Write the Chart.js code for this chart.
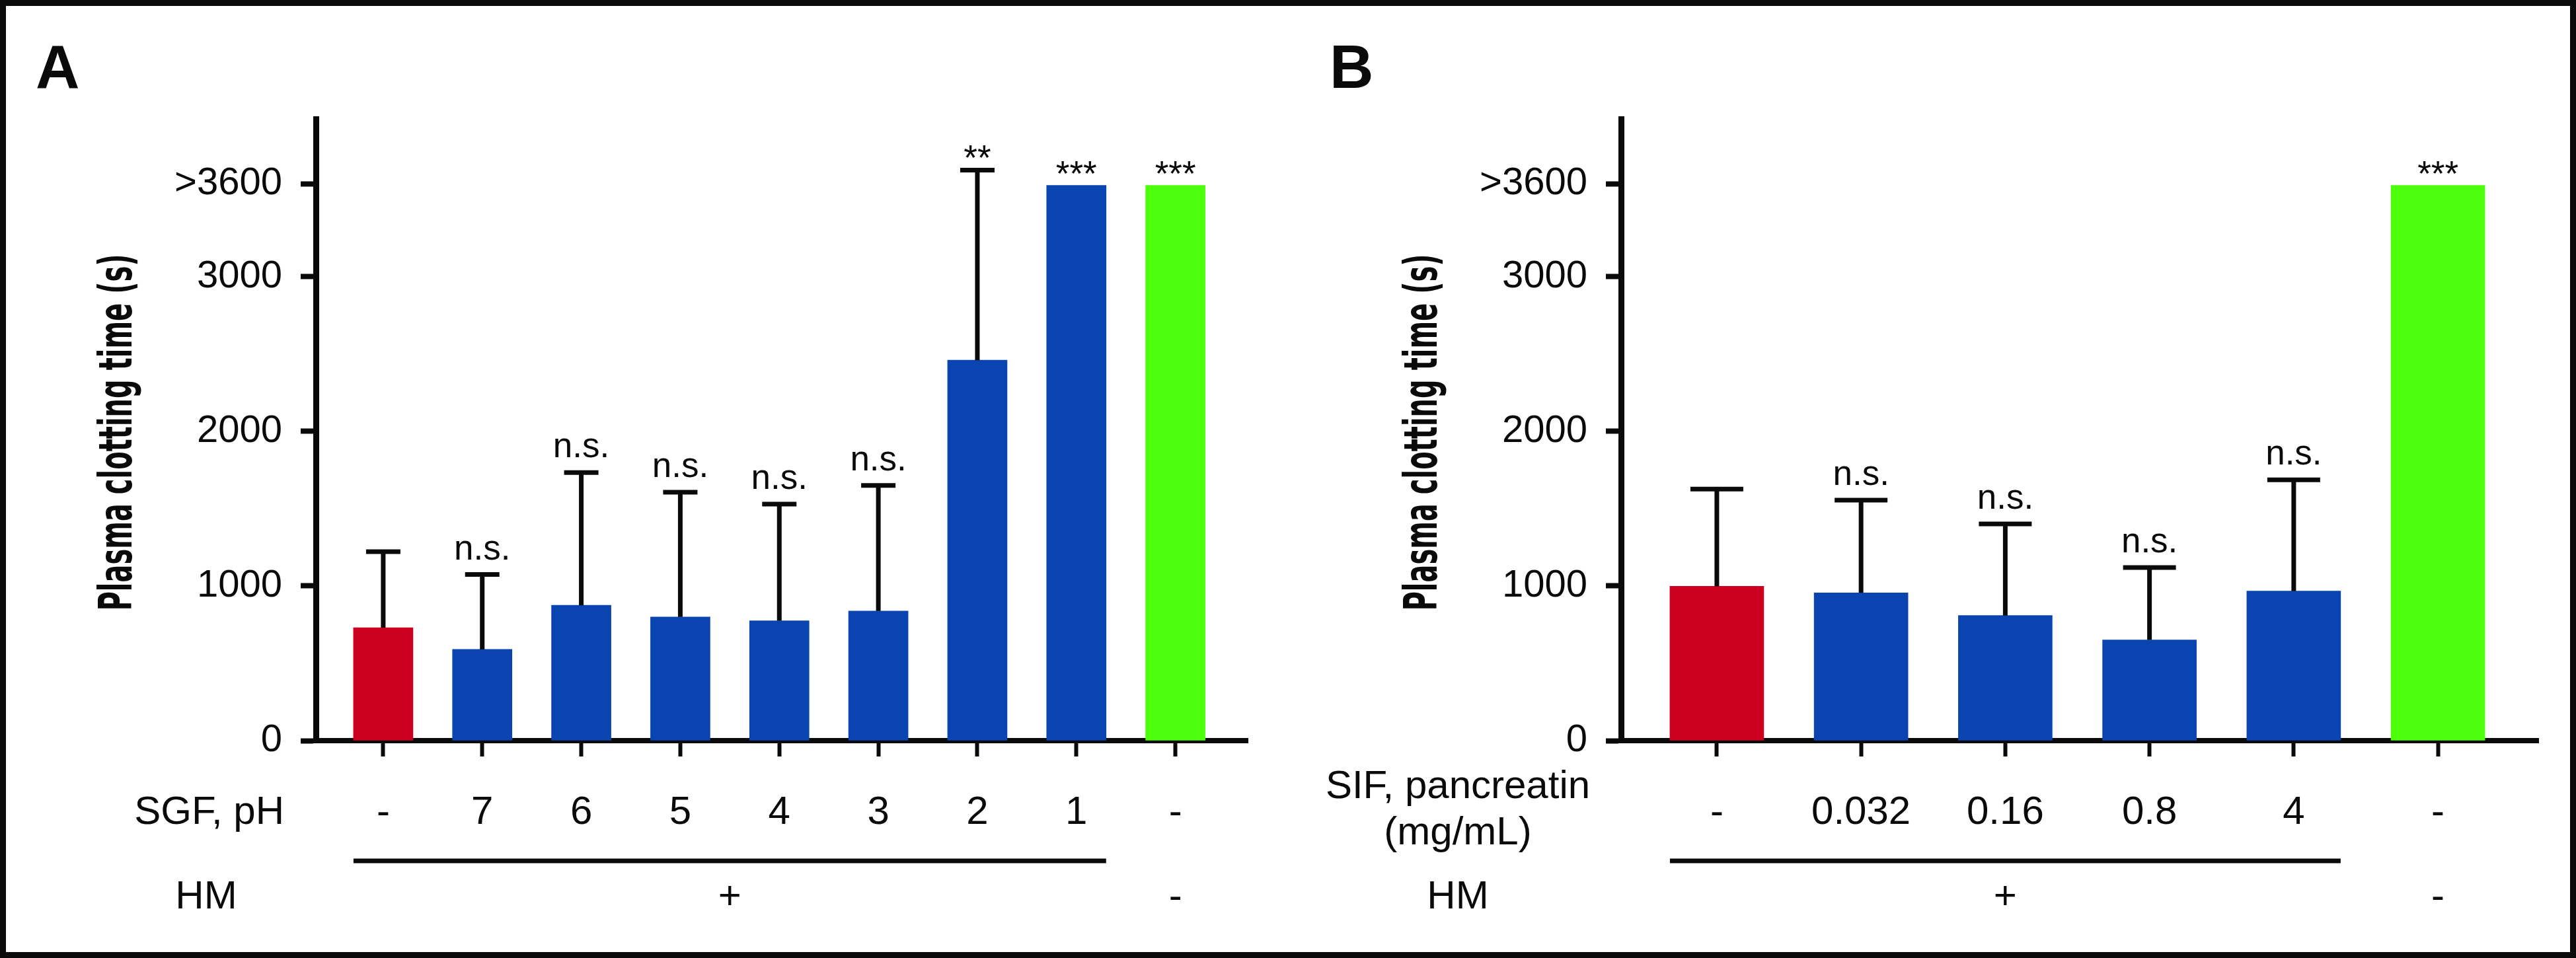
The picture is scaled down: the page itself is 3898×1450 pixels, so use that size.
<!DOCTYPE html>
<html>
<head>
<meta charset="utf-8">
<script src="https://cdn.jsdelivr.net/npm/chart.js@4.4.1/dist/chart.umd.min.js"></script>
<style>
  html, body { margin: 0; padding: 0; background: #fff; }
  #figure { position: relative; width: 3898px; height: 1450px; overflow: hidden; background: #fff; }
  #figure canvas { position: absolute; top: 0; }
  #chartA { left: 0; }
  #chartB { left: 1949px; }
  #frame { position: absolute; left: 0; top: 0; right: 0; bottom: 0; border: 9px solid #0a0a0a; pointer-events: none; }
</style>
</head>
<body>
<div id="figure">
  <canvas id="chartA" width="1949" height="1450"></canvas>
  <canvas id="chartB" width="1949" height="1450"></canvas>
  <div id="frame"></div>
</div>
<script>
// Panel A - SGF at different pH
const sgfLabels = ["-", "7", "6", "5", "4", "3", "2", "1", "-"];
const sgfMeans = [730, 590, 875, 800, 775, 838, 2460, 3590, 3590];
const sgfErrTop = [1222, 1074, 1733, 1606, 1529, 1650, 3689, null, null];
const sgfSig = ["", "n.s.", "n.s.", "n.s.", "n.s.", "n.s.", "**", "***", "***"];

// Panel B - SIF with pancreatin (mg/mL)
const sifLabels = ["-", "0.032", "0.16", "0.8", "4", "-"];
const sifMeans = [998, 956, 809, 651, 967, 3590];
const sifErrTop = [1627, 1555, 1401, 1119, 1686, null];
const sifSig = ["", "n.s.", "n.s.", "n.s.", "n.s.", "***"];

// y axis
const yTicks = [0, 1000, 2000, 3000, 3600];
const yMax = 4020;

const ink = "#0a0a0a";
const RED = "#cc001f";
const BLUE = "#0a44b1";
const GREEN = "#4cff0b";
const FONT = '"Liberation Sans", Arial, sans-serif';

// 첫 막대 = 대조군(빨강), 마지막 = HM 없음(초록), 나머지 = 파랑
function barColors(n) {
  return Array.from({ length: n }, (_, i) => (i === 0 ? RED : i === n - 1 ? GREEN : BLUE));
}

// error bars, significance marks, row labels, panel letter, y title
const panelDecor = {
  id: "panelDecor",
  afterDatasetsDraw(chart, args, opts) {
    const ctx = chart.ctx;
    const xs = chart.scales.x;
    const ys = chart.scales.y;
    ctx.save();
    ctx.strokeStyle = ink;
    ctx.lineWidth = 7;
    opts.errTop.forEach((e, i) => {
      if (e == null) return;
      const x = xs.getPixelForValue(i);
      const y0 = ys.getPixelForValue(opts.means[i]);
      const y1 = ys.getPixelForValue(e);
      ctx.beginPath();
      ctx.moveTo(x, y0);
      ctx.lineTo(x, y1);
      ctx.moveTo(x - opts.capWidth / 2, y1);
      ctx.lineTo(x + opts.capWidth / 2, y1);
      ctx.stroke();
    });
    ctx.restore();
  },
  afterDraw(chart, args, opts) {
    const ctx = chart.ctx;
    const xs = chart.scales.x;
    const ys = chart.scales.y;
    const area = chart.chartArea;
    const n = opts.means.length;
    ctx.save();
    ctx.fillStyle = ink;

    // significance
    ctx.textAlign = "center";
    ctx.textBaseline = "alphabetic";
    ctx.font = "53px " + FONT;
    opts.sig.forEach((s, i) => {
      if (!s) return;
      const top = opts.errTop[i] != null ? opts.errTop[i] : opts.means[i];
      const y = ys.getPixelForValue(top);
      ctx.fillText(s, xs.getPixelForValue(i), s === "n.s." ? y - 23 : y);
    });

    // row titles under the axis
    ctx.font = "60px " + FONT;
    ctx.textBaseline = "middle";
    ctx.textAlign = opts.rowAlign;
    opts.rowTitle.forEach((line, k) => {
      ctx.fillText(line, area.left + opts.rowX, opts.rowY + k * 70);
    });

    // HM row
    ctx.textAlign = "center";
    ctx.fillText("HM", area.left + opts.hmX, 1358);
    const xFirst = xs.getPixelForValue(0);
    const xLast = xs.getPixelForValue(n - 2);
    ctx.fillText("+", (xFirst + xLast) / 2, 1358);
    ctx.fillText("-", xs.getPixelForValue(n - 1), 1358);

    // bracket line over the HM+ group
    ctx.strokeStyle = ink;
    ctx.lineWidth = 7;
    ctx.beginPath();
    ctx.moveTo(xFirst - opts.barWidth / 2, 1303);
    ctx.lineTo(xLast + opts.barWidth / 2, 1303);
    ctx.stroke();

    // panel letter
    ctx.textAlign = "left";
    ctx.textBaseline = "alphabetic";
    ctx.font = "bold 92px " + FONT;
    ctx.fillText(opts.letter, opts.letterX, 133);

    // y axis title (condensed)
    ctx.font = 'bold 70px "Liberation Sans Narrow", "DejaVu Sans Condensed", ' + FONT;
    const title = "Plasma clotting time (s)";
    const w = ctx.measureText(title).width;
    ctx.translate(area.left - 297, (area.top + area.bottom) / 2 + 4);
    ctx.rotate(-Math.PI / 2);
    ctx.scale(540 / w, 1);
    ctx.textAlign = "center";
    ctx.textBaseline = "middle";
    ctx.fillText(title, 0, 0);
    ctx.restore();
  },
};

function makePanel(canvasId, cfg) {
  const n = cfg.labels.length;
  return new Chart(document.getElementById(canvasId), {
    type: "bar",
    data: {
      datasets: [
        {
          data: cfg.means.map((v, i) => ({ x: i, y: v })),
          backgroundColor: barColors(n),
          borderWidth: 0,
          barThickness: cfg.barWidth,
        },
      ],
    },
    options: {
      responsive: false,
      animation: false,
      devicePixelRatio: 1,
      layout: { padding: { left: 0, right: cfg.padRight, top: 180, bottom: 0 } },
      plugins: {
        legend: { display: false },
        tooltip: { enabled: false },
        panelDecor: cfg,
      },
      scales: {
        x: {
          type: "linear",
          min: cfg.xMin,
          max: cfg.xMax,
          offset: false,
          z: 1,
          afterBuildTicks: (axis) => {
            axis.ticks = cfg.labels.map((l, i) => ({ value: i }));
          },
          afterFit: (axis) => {
            axis.height = 1450 - 180 - 941;
          },
          ticks: {
            callback: (v) => cfg.labels[v],
            autoSkip: false,
            maxRotation: 0,
            padding: 49,
            color: ink,
            font: { family: FONT, size: 60 },
          },
          grid: { offset: false, drawOnChartArea: false, drawTicks: true, tickLength: 24, tickWidth: 6, tickColor: ink },
          border: { display: true, width: 8, color: ink },
        },
        y: {
          min: 0,
          max: yMax,
          z: 1,
          afterBuildTicks: (axis) => {
            axis.ticks = yTicks.map((v) => ({ value: v }));
          },
          afterFit: (axis) => {
            axis.width = cfg.plotLeft;
          },
          ticks: {
            callback: (v) => (v === 3600 ? ">3600" : String(v)),
            padding: 28,
            color: ink,
            font: { family: FONT, size: 58 },
          },
          grid: { drawOnChartArea: false, drawTicks: true, tickLength: 23, tickWidth: 8, tickColor: ink },
          border: { display: true, width: 9, color: ink },
        },
      },
    },
    plugins: [panelDecor],
  });
}

makePanel("chartA", {
  labels: sgfLabels,
  means: sgfMeans,
  errTop: sgfErrTop,
  sig: sgfSig,
  xMin: -0.68,
  xMax: 8.73,
  barWidth: 90,
  capWidth: 52,
  plotLeft: 478,
  padRight: 61,
  rowTitle: ["SGF, pH"],
  rowAlign: "right",
  rowX: -48,
  rowY: 1230,
  hmX: -166,
  letter: "A",
  letterX: 54,
});

makePanel("chartB", {
  labels: sifLabels,
  means: sifMeans,
  errTop: sifErrTop,
  sig: sifSig,
  xMin: -0.664,
  xMax: 5.696,
  barWidth: 142,
  capWidth: 80,
  plotLeft: 504,
  padRight: 57,
  rowTitle: ["SIF, pancreatin", "(mg/mL)"],
  rowAlign: "center",
  rowX: -247,
  rowY: 1191,
  hmX: -247,
  letter: "B",
  letterX: 63,
});
</script>
</body>
</html>
